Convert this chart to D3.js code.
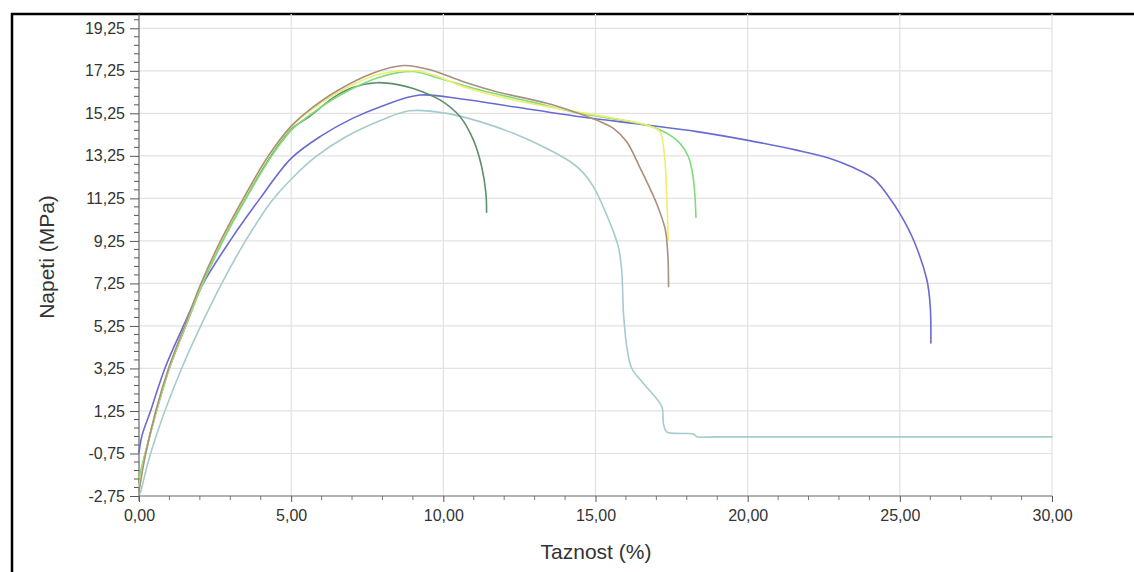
<!DOCTYPE html>
<html>
<head>
<meta charset="utf-8">
<script src="https://cdn.jsdelivr.net/npm/d3@7"></script>
<style>
  html, body { margin: 0; padding: 0; background: #fff; }
  svg { display: block; font-family: "Liberation Sans", Arial, sans-serif; }
</style>
</head>
<body>
<svg id="chart" width="1134" height="572"></svg>
<script>
// ---- data ----
const xTicks = [0, 5, 10, 15, 20, 25, 30];
const yTicks = [-2.75, -0.75, 1.25, 3.25, 5.25, 7.25, 9.25, 11.25, 13.25, 15.25, 17.25, 19.25];
const xTitle = "Taznost (%)";
const yTitle = "Napeti (MPa)";
const seriesNames = ["brown", "yellow", "green", "darkgreen", "blue", "teal"];
const seriesColors = ["#a98f7c", "#eeee6e", "#7edc7e", "#5e8f6c", "#6a6ad2", "#a6cbcb"];

const brown = [[0.0,-2.55],[0.2,-0.9],[0.55,1.25],[0.97,3.25],[1.5,5.25],[2.04,7.25],[2.68,9.25],[3.43,11.25],[4.25,13.25],[5.0,14.65],[5.5,15.3],[6.5,16.3],[7.7,17.15],[8.7,17.5],[9.56,17.3],[10.66,16.74],[11.75,16.27],[13.4,15.72],[14.38,15.28],[15.04,14.93],[15.59,14.54],[16.03,13.9],[16.46,12.7],[17.01,11.0],[17.29,9.8],[17.38,8.5],[17.4,7.1]];
const yellow = [[0.0,-2.3],[0.2,-0.85],[0.56,1.25],[0.98,3.25],[1.51,5.25],[2.05,7.25],[2.7,9.25],[3.45,11.25],[4.27,13.25],[5.0,14.6],[5.5,15.25],[6.5,16.2],[7.8,17.05],[9.0,17.25],[9.67,17.05],[10.66,16.5],[12.3,15.88],[14.05,15.41],[15.59,15.02],[16.68,14.7],[17.12,14.39],[17.2,14.0],[17.29,12.9],[17.35,11.0],[17.39,9.3]];
const green = [[0.0,-1.9],[0.2,-0.75],[0.58,1.25],[1.0,3.25],[1.54,5.25],[2.1,7.25],[2.76,9.25],[3.52,11.25],[4.36,13.25],[5.0,14.45],[5.6,15.15],[6.6,16.1],[7.9,16.95],[9.0,17.22],[9.89,16.89],[11.2,16.35],[12.85,15.8],[14.49,15.25],[16.14,14.86],[17.01,14.54],[17.67,13.99],[18.05,13.21],[18.22,12.11],[18.3,10.35]];
const darkgreen = [[0.0,-2.1],[0.2,-0.8],[0.57,1.25],[0.99,3.25],[1.53,5.25],[2.08,7.25],[2.74,9.25],[3.5,11.25],[4.34,13.25],[5.0,14.5],[5.6,15.1],[6.4,16.0],[7.0,16.45],[7.8,16.69],[8.5,16.6],[9.01,16.42],[9.89,15.88],[10.55,15.09],[10.99,13.99],[11.26,12.74],[11.4,11.48],[11.42,10.6]];
const blue = [[0.0,-0.7],[0.1,0.1],[0.38,1.25],[0.85,3.25],[1.46,5.25],[2.11,7.25],[2.99,9.25],[3.98,11.25],[5.0,13.13],[6.0,14.2],[7.0,15.0],[8.0,15.6],[9.23,16.11],[10.66,15.91],[12.3,15.56],[14.49,15.09],[16.68,14.7],[18.33,14.39],[19.97,13.99],[21.61,13.52],[22.71,13.13],[23.47,12.7],[24.13,12.19],[24.6,11.4],[25.06,10.39],[25.45,9.29],[25.89,7.41],[26.0,6.15],[26.02,4.45]];
const teal = [[0.05,-2.6],[0.35,-0.9],[0.85,1.25],[1.4,3.25],[2.03,5.25],[2.72,7.25],[3.5,9.25],[4.35,11.1],[5.0,12.15],[5.8,13.2],[6.8,14.15],[8.0,14.95],[8.9,15.37],[10.11,15.25],[11.2,14.86],[12.3,14.31],[13.4,13.6],[14.2,12.95],[14.6,12.45],[14.93,11.8],[15.48,10.08],[15.75,8.98],[15.86,7.88],[15.92,5.84],[16.03,4.27],[16.19,3.26],[16.57,2.55],[17.18,1.45],[17.23,0.67],[17.34,0.27],[17.8,0.19],[18.22,0.17],[18.33,0.04],[19.0,0.03],[21.0,0.03],[24.0,0.03],[27.0,0.03],[30.0,0.03]];
const seriesData = [brown, yellow, green, darkgreen, blue, teal];

// ---- layout ----
const svg = d3.select("#chart");
const pLeft = 139, pRight = 1052, pTop = 14, pBottom = 496;
const x = d3.scaleLinear().domain([0, 30]).range([pLeft, pRight]);
const y = d3.scaleLinear().domain([-2.75, 19.25]).range([pBottom, 28.3]);

// frame
svg.append("rect").attr("x", 12).attr("y", 14).attr("width", 1140).attr("height", 580)
  .attr("fill", "none").attr("stroke", "#000").attr("stroke-width", 2.5);

// grid
const grid = svg.append("g");
grid.selectAll("line.h").data(yTicks.slice(1)).join("line")
  .attr("x1", pLeft).attr("x2", pRight).attr("y1", d => y(d)).attr("y2", d => y(d))
  .attr("stroke", "#e2e2e2").attr("stroke-width", 1.2);
grid.selectAll("line.v").data(xTicks.slice(1)).join("line")
  .attr("x1", d => x(d)).attr("x2", d => x(d)).attr("y1", pTop).attr("y2", pBottom)
  .attr("stroke", "#e2e2e2").attr("stroke-width", 1.2);

// minor ticks
const yMinor = d3.range(-2.75, 19.9, 0.4).filter(v => Math.abs(((v + 2.75) / 2) - Math.round((v + 2.75) / 2)) > 0.01);
const xMinor = d3.range(0, 30.01, 1).filter(v => v % 5 !== 0);
svg.append("g").selectAll("line").data(yMinor).join("line")
  .attr("x1", pLeft - 5).attr("x2", pLeft).attr("y1", d => y(d)).attr("y2", d => y(d))
  .attr("stroke", "#555").attr("stroke-width", 1);
svg.append("g").selectAll("line").data(xMinor).join("line")
  .attr("x1", d => x(d)).attr("x2", d => x(d)).attr("y1", pBottom).attr("y2", pBottom + 4)
  .attr("stroke", "#777").attr("stroke-width", 1);

// axes
const fmt = d => d.toFixed(2).replace(".", ",");
const yAxis = svg.append("g").attr("transform", `translate(${pLeft},0)`)
  .call(d3.axisLeft(y).tickValues(yTicks).tickFormat(fmt).tickSize(9).tickPadding(5));
yAxis.select(".domain").remove();
const xAxis = svg.append("g").attr("transform", `translate(0,${pBottom})`)
  .call(d3.axisBottom(x).tickValues(xTicks).tickFormat(fmt).tickSize(6).tickPadding(8));
xAxis.select(".domain").remove();
[yAxis, xAxis].forEach(a => {
  a.selectAll("text").attr("font-size", 16).attr("fill", "#333")
    .attr("font-family", "'Liberation Sans', Arial, sans-serif");
  a.selectAll(".tick line").attr("stroke", "#555");
});
svg.append("line").attr("x1", pLeft).attr("x2", pLeft).attr("y1", pTop).attr("y2", pBottom + 5)
  .attr("stroke", "#666").attr("stroke-width", 1.2);
svg.append("line").attr("x1", pLeft).attr("x2", pRight).attr("y1", pBottom).attr("y2", pBottom)
  .attr("stroke", "#666").attr("stroke-width", 1.2);

// titles
svg.append("text").attr("x", 596).attr("y", 559).attr("text-anchor", "middle")
  .attr("font-size", 21).attr("fill", "#333").text(xTitle);
svg.append("text").attr("transform", "translate(54,257) rotate(-90)").attr("text-anchor", "middle")
  .attr("font-size", 21).attr("fill", "#333").text(yTitle);

// curves
const line = d3.line().x(d => x(d[0])).y(d => y(d[1])).curve(d3.curveCatmullRom.alpha(0.5));
const order = [5, 4, 3, 2, 1, 0];
svg.append("g").selectAll("path").data(order).join("path")
  .attr("d", i => line(seriesData[i]))
  .attr("fill", "none").attr("stroke", i => seriesColors[i]).attr("stroke-width", 1.6)
  .attr("stroke-linejoin", "round").attr("stroke-linecap", "round")
  .attr("data-name", i => seriesNames[i]);
</script>
</body>
</html>
